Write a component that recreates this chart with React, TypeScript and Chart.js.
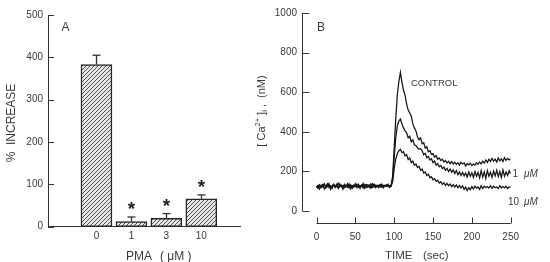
import { useEffect, useRef } from 'react';
import { Chart, registerables } from 'chart.js';

Chart.register(...registerables);

// ---------- Panel A data ----------
const PMA_LABELS = ['0', '1', '3', '10'];
const PCT_INCREASE = [383, 12, 20, 66];
const PCT_ERR = [22, 11, 11, 9];
const SIGNIFICANT = [false, true, true, true];
const Y_TICKS_A = [0, 100, 200, 300, 400, 500];

// ---------- Panel B data ----------
const TIME = [
  0, 2, 4, 6, 8, 10, 12, 14, 16, 18, 20, 22, 24, 26, 28, 30, 32, 34, 36, 38,
  40, 42, 44, 46, 48, 50, 52, 54, 56, 58, 60, 62, 64, 66, 68, 70, 72, 74, 76, 78,
  80, 82, 84, 86, 88, 90, 92, 94, 96, 98, 100, 102, 104, 106, 108, 110, 112, 114, 116, 118,
  120, 122, 124, 126, 128, 130, 132, 134, 136, 138, 140, 142, 144, 146, 148, 150, 152, 154, 156, 158,
  160, 162, 164, 166, 168, 170, 172, 174, 176, 178, 180, 182, 184, 186, 188, 190, 192, 194, 196, 198,
  200, 202, 204, 206, 208, 210, 212, 214, 216, 218, 220, 222, 224, 226, 228, 230, 232, 234, 236, 238,
  240, 242, 244, 246, 248, 250,
];
const CONTROL = [
  118, 128, 112, 131, 122, 135, 119, 127, 140, 116,
  125, 133, 121, 129, 114, 137, 124, 130, 118, 126,
  139, 121, 128, 115, 132, 124, 136, 120, 127, 131,
  117, 129, 134, 122, 126, 138, 119, 125, 131, 123,
  128, 135, 121, 130, 126, 133, 124, 129,
  131, 175, 320, 465, 585, 655, 700, 650, 610, 585,
  540, 510, 495, 480, 440, 420, 405, 375, 360, 370,
  340, 345, 318, 325, 300, 305, 286, 290, 272, 280,
  262, 268, 255, 262, 248, 256, 243, 252, 240, 250,
  238, 247, 236, 244, 232, 246, 238, 243, 228, 240,
  233, 242, 230, 238, 232, 244, 236, 248, 238, 252,
  242, 258, 246, 262, 250, 266, 252, 262, 248, 268,
  254, 264, 250, 270, 256, 266, 258, 264,
];
const PMA_1UM = [
  126, 114, 133, 120, 129, 138, 117, 124, 131, 110,
  128, 136, 119, 125, 141, 122, 130, 116, 134, 127,
  121, 137, 113, 129, 125, 132, 118, 135, 123, 128,
  140, 115, 127, 133, 120, 124, 137, 126, 118, 131,
  129, 122, 136, 117, 128, 132, 125, 121,
  127, 160, 270, 370, 430, 455, 465, 440, 420, 405,
  395, 370, 378, 350, 360, 335, 330, 320, 312, 315,
  305, 285, 292, 270, 276, 258, 264, 245, 252, 232,
  240, 224, 230, 214, 222, 206, 216, 200, 212, 196,
  208, 190, 205, 184, 198, 180, 195, 178, 192, 172,
  198, 176, 194, 170, 200, 175, 196, 168, 205, 172,
  198, 165, 204, 176, 196, 170, 202, 178, 206, 174,
  200, 170, 208, 176, 198, 180, 204, 188,
];
const PMA_10UM = [
  121, 130, 116, 127, 134, 112, 125, 139, 120, 128,
  115, 132, 124, 136, 118, 126, 130, 111, 135, 122,
  129, 117, 133, 125, 120, 138, 123, 127, 114, 131,
  126, 135, 119, 124, 132, 116, 129, 137, 121, 126,
  118, 133, 127, 122, 130, 125, 136, 120,
  125, 150, 215, 262, 290, 305, 312, 295, 300, 278,
  285, 260, 268, 245, 252, 232, 238, 220, 226, 205,
  212, 192, 198, 180, 186, 168, 174, 158, 164, 150,
  156, 142, 148, 135, 143, 130, 140, 128, 137, 124,
  134, 121, 132, 118, 130, 116, 128, 110, 122, 104,
  118, 108, 124, 112, 126, 116, 122, 110, 128, 114,
  126, 118, 124, 116, 128, 115, 126, 118, 122, 114,
  128, 116, 124, 118, 126, 114, 122, 119,
];
const X_TICKS_B = [0, 50, 100, 150, 200, 250];
const Y_TICKS_B = [0, 200, 400, 600, 800, 1000];

const FONT = "'Liberation Sans', Arial, Helvetica, sans-serif";
const INK = '#333333';
const TEXT = '#3a3a3a';

function makeHatch(ctx: CanvasRenderingContext2D) {
  const s = 4;
  const pc = document.createElement('canvas');
  pc.width = s;
  pc.height = s;
  const g = pc.getContext('2d')!;
  g.fillStyle = '#e6e6e6';
  g.fillRect(0, 0, s, s);
  g.strokeStyle = '#505050';
  g.lineWidth = 1;
  g.beginPath();
  g.moveTo(0, s);
  g.lineTo(s, 0);
  g.moveTo(-1, 1);
  g.lineTo(1, -1);
  g.moveTo(s - 1, s + 1);
  g.lineTo(s + 1, s - 1);
  g.stroke();
  return ctx.createPattern(pc, 'repeat')!;
}

function line(ctx: CanvasRenderingContext2D, x1: number, y1: number, x2: number, y2: number) {
  ctx.beginPath();
  ctx.moveTo(x1, y1);
  ctx.lineTo(x2, y2);
  ctx.stroke();
}

const panelAPlugin = {
  id: 'panelA',
  afterDatasetsDraw(chart: any) {
    const { ctx, chartArea } = chart;
    const x = chart.scales.x;
    const y = chart.scales.y;
    ctx.save();
    ctx.strokeStyle = INK;
    ctx.lineWidth = 1;
    Y_TICKS_A.forEach((v) => {
      const py = Math.round(y.getPixelForValue(v)) + 0.5;
      line(ctx, chartArea.left, py, chartArea.left + 6, py);
    });
    ctx.lineWidth = 1.3;
    PCT_INCREASE.forEach((v, i) => {
      const px = Math.round(x.getPixelForValue(i)) + 0.5;
      const base = y.getPixelForValue(v);
      const top = y.getPixelForValue(v + PCT_ERR[i]);
      line(ctx, px, base, px, top);
      line(ctx, px - 4, top, px + 4, top);
      if (SIGNIFICANT[i]) {
        ctx.fillStyle = '#222';
        ctx.font = `bold 19px ${FONT}`;
        ctx.textAlign = 'center';
        ctx.textBaseline = 'alphabetic';
        ctx.fillText('*', px, top - 12.5 + 11);
      }
    });
    ctx.fillStyle = TEXT;
    ctx.font = `12px ${FONT}`;
    ctx.textAlign = 'center';
    ctx.textBaseline = 'middle';
    ctx.fillText('A', 65.5, 28);
    ctx.textAlign = 'left';
    ctx.fillText('PMA', 126, 256.5);
    ctx.fillText('( \u03BCM )', 160, 256.5);
    ctx.save();
    ctx.translate(12, 123);
    ctx.rotate(-Math.PI / 2);
    ctx.textAlign = 'center';
    ctx.font = `12px ${FONT}`;
    ctx.fillText('%  INCREASE', 0, 0);
    ctx.restore();
    ctx.restore();
  },
};

const panelBPlugin = {
  id: 'panelB',
  afterDatasetsDraw(chart: any) {
    const { ctx, chartArea } = chart;
    const x = chart.scales.x;
    const y = chart.scales.y;
    ctx.save();
    ctx.strokeStyle = INK;
    ctx.lineWidth = 1;
    const ax = Math.round(chartArea.left) + 0.5;
    line(ctx, ax, y.getPixelForValue(Y_TICKS_B[0]), ax, y.getPixelForValue(Y_TICKS_B[Y_TICKS_B.length - 1]));
    Y_TICKS_B.forEach((v) => {
      const py = Math.round(y.getPixelForValue(v)) + 0.5;
      line(ctx, ax, py, ax + 7, py);
    });
    const ay = Math.round(chartArea.bottom) + 0.5;
    line(ctx, x.getPixelForValue(X_TICKS_B[0]), ay, x.getPixelForValue(X_TICKS_B[X_TICKS_B.length - 1]), ay);
    X_TICKS_B.forEach((v) => {
      const px = Math.round(x.getPixelForValue(v)) + 0.5;
      line(ctx, px, ay, px, ay - 6);
    });
    ctx.fillStyle = TEXT;
    ctx.textBaseline = 'middle';
    ctx.font = `12px ${FONT}`;
    ctx.textAlign = 'center';
    ctx.fillText('B', 71, 27.5);
    ctx.textAlign = 'left';
    ctx.font = `11.5px ${FONT}`;
    ctx.fillText('TIME', 135, 255.5);
    ctx.fillText('(sec)', 173, 255.5);
    ctx.font = `9.5px ${FONT}`;
    ctx.fillText('CONTROL', 161, 83.5);
    ctx.font = `10px ${FONT}`;
    ctx.fillText('1', 262.5, 174);
    ctx.fillText('10', 258, 202.5);
    ctx.font = `italic 10px ${FONT}`;
    ctx.fillText('\u03BCM', 274, 174);
    ctx.fillText('\u03BCM', 274, 202.5);
    ctx.save();
    ctx.translate(12, 111);
    ctx.rotate(-Math.PI / 2);
    const big = `11px ${FONT}`;
    const small = `7.5px ${FONT}`;
    const parts: [string, string, number][] = [
      ['[ Ca', big, 0],
      ['2+', small, -4],
      [' ]', big, 0],
      ['i', small, 3],
      [' ,  (nM)', big, 0],
    ];
    let total = 0;
    parts.forEach(([t, f]) => {
      ctx.font = f;
      total += ctx.measureText(t).width;
    });
    let cx = -total / 2;
    ctx.textAlign = 'left';
    parts.forEach(([t, f, dy]) => {
      ctx.font = f;
      ctx.fillText(t, cx, dy);
      cx += ctx.measureText(t).width;
    });
    ctx.restore();
    ctx.restore();
  },
};

export default function App() {
  const refA = useRef<HTMLCanvasElement>(null);
  const refB = useRef<HTMLCanvasElement>(null);

  useEffect(() => {
    const ctxA = refA.current!.getContext('2d')!;
    const hatch = makeHatch(ctxA);
    const tickFont = { family: FONT, size: 10 };

    const chartA = new Chart(refA.current!, {
      type: 'bar',
      data: {
        datasets: [
          {
            data: PCT_INCREASE.map((v, i) => ({ x: i, y: v })),
            backgroundColor: hatch,
            borderColor: '#262626',
            borderWidth: 1.5,
            borderSkipped: false,
            barThickness: 31,
          } as any,
        ],
      },
      options: {
        responsive: false,
        animation: false,
        layout: { padding: { left: 0, right: 10, top: 15, bottom: 0 } },
        plugins: { legend: { display: false }, tooltip: { enabled: false } },
        scales: {
          x: {
            type: 'linear',
            min: -0.7,
            max: 3.42,
            afterBuildTicks: (s: any) => {
              s.ticks = PMA_LABELS.map((_, i) => ({ value: i }));
            },
            afterFit: (s: any) => {
              s.height = 35.3;
            },
            grid: { display: false, drawTicks: false },
            border: { display: true, color: INK, width: 1 },
            ticks: {
              font: tickFont,
              color: TEXT,
              padding: 4,
              callback: (v: any) => PMA_LABELS[v] ?? '',
            },
          },
          y: {
            min: 0,
            max: 500,
            afterBuildTicks: (s: any) => {
              s.ticks = Y_TICKS_A.map((v) => ({ value: v }));
            },
            afterFit: (s: any) => {
              s.width = 48;
            },
            grid: { display: false, drawTicks: false },
            border: { display: true, color: INK, width: 1 },
            ticks: { font: tickFont, color: TEXT, padding: 5, callback: (v: any) => String(v) },
          },
        },
      },
      plugins: [panelAPlugin],
    });

    const mk = (vals: number[]) => TIME.map((t, i) => ({ x: t, y: vals[i] }));
    const lineStyle = {
      borderColor: '#151515',
      borderWidth: 1.25,
      pointRadius: 0,
      tension: 0,
      fill: false,
    };
    const chartB = new Chart(refB.current!, {
      type: 'line',
      data: {
        datasets: [
          { label: 'CONTROL', data: mk(CONTROL), ...lineStyle },
          { label: '1 \u03BCM', data: mk(PMA_1UM), ...lineStyle },
          { label: '10 \u03BCM', data: mk(PMA_10UM), ...lineStyle },
        ],
      },
      options: {
        responsive: false,
        animation: false,
        layout: { padding: { left: 0, right: 39.3, top: 13, bottom: 0 } },
        plugins: { legend: { display: false }, tooltip: { enabled: false } },
        scales: {
          x: {
            type: 'linear',
            min: -18.7,
            max: 250,
            afterBuildTicks: (s: any) => {
              s.ticks = X_TICKS_B.map((v) => ({ value: v }));
            },
            afterFit: (s: any) => {
              s.height = 39;
            },
            grid: { display: false, drawTicks: false },
            border: { display: false },
            ticks: { font: tickFont, color: TEXT, padding: 8.5, callback: (v: any) => String(v) },
          },
          y: {
            min: -60,
            max: 1000,
            afterBuildTicks: (s: any) => {
              s.ticks = Y_TICKS_B.map((v) => ({ value: v }));
            },
            afterFit: (s: any) => {
              s.width = 52;
            },
            grid: { display: false, drawTicks: false },
            border: { display: false },
            ticks: { font: tickFont, color: TEXT, padding: 5, callback: (v: any) => String(v) },
          },
        },
      },
      plugins: [panelBPlugin],
    });

    return () => {
      chartA.destroy();
      chartB.destroy();
    };
  }, []);

  return (
    <div style={{ position: 'absolute', left: 0, top: 0, width: 550, height: 262, background: '#fff' }}>
      <canvas ref={refA} width={250} height={262} style={{ position: 'absolute', left: 0, top: 0 }} />
      <canvas ref={refB} width={300} height={262} style={{ position: 'absolute', left: 250, top: 0 }} />
    </div>
  );
}
